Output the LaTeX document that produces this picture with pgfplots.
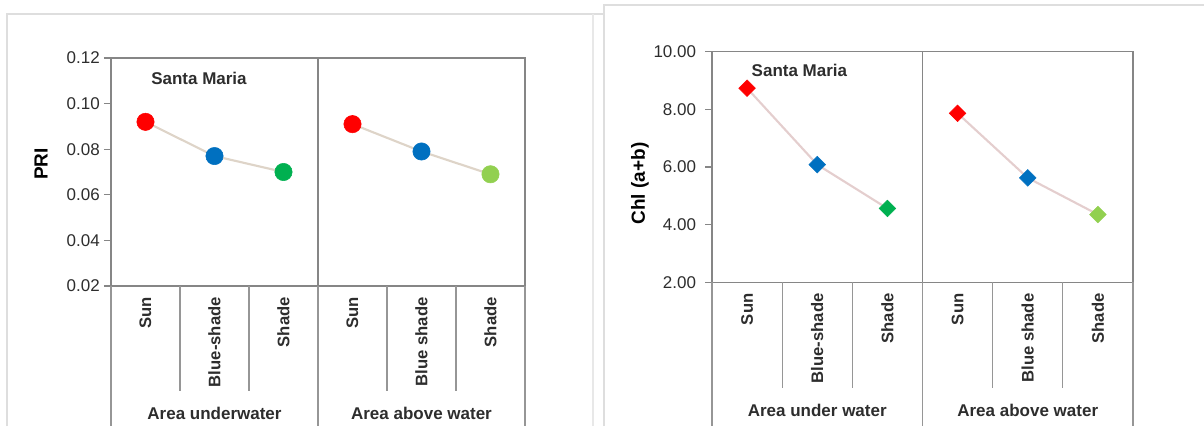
\documentclass[border=0pt]{standalone}
\usepackage{pgfplots}
\pgfplotsset{compat=1.18}
\usepackage{fontspec}
\setmainfont{Liberation Sans}
\definecolor{sunred}{RGB}{255,0,0}
\definecolor{bluesh}{RGB}{0,112,192}
\definecolor{shgreen}{RGB}{0,176,80}
\definecolor{shlgreen}{RGB}{146,208,80}
\definecolor{axgray}{RGB}{134,134,134}
\definecolor{sepgray}{RGB}{150,150,150}
\definecolor{panelgray}{RGB}{222,222,222}
\definecolor{lineL}{RGB}{222,212,200}
\definecolor{lineR}{RGB}{228,206,206}
\definecolor{ticktext}{RGB}{45,45,45}
\pgfplotsset{
  panel/.style={
    scale only axis, xmin=0, xmax=6, clip=false,
    axis line style={axgray, line width=0.9pt},
    xtick={0.5,1.5,2.5,3.5,4.5,5.5},
    xticklabels={Sun,Blue-shade,Shade,Sun,Blue shade,Shade},
    xticklabel style={rotate=90, anchor=east, inner sep=0pt,
      font=\fontsize{12.5}{14}\selectfont\bfseries, text=ticktext},
    x tick style={draw=none}, xtick pos=bottom,
    ytick pos=left, tick align=outside, major tick length=5.25pt,
    y tick style={axgray, line width=0.9pt},
    yticklabel style={font=\fontsize{12.75}{15}\selectfont, text=ticktext},
    /pgf/number format/fixed, /pgf/number format/fixed zerofill,
    /pgf/number format/precision=2,
    /pgf/number format/assume math mode=true,
    xticklabel shift=3pt,
  },
}
\tikzset{grp/.style={font=\fontsize{12.75}{15}\selectfont\bfseries, text=ticktext}}
\begin{document}
\begin{tikzpicture}[x=0.75pt,y=0.75pt]
\useasboundingbox (0,0) rectangle (1204,426);
% panel frames
\draw[panelgray, line width=1.1pt] (7,0) -- (7,412) -- (604,412);
\draw[panelgray!70, line width=0.8pt] (593,0) -- (593,412);
\draw[panelgray, line width=1.1pt] (604,0) -- (604,421) -- (1204,421);

% ---------------- Left panel: PRI ----------------
\begin{axis}[panel, at={(83.25pt,105pt)}, anchor=south west,
  width=310.5pt, height=171pt,
  ymin=0.02, ymax=0.12, ytick={0.02,0.04,0.06,0.08,0.10,0.12},
  yticklabel style={inner sep=3pt},
  ylabel={PRI},
  ylabel style={at={([xshift=-52.5pt]rel axis cs:0,0.535)}, anchor=center,
    font=\fontsize{14.25}{16}\selectfont\bfseries, text=black},
]
\addplot[lineL, line width=1.6pt] coordinates {(0.5,0.092) (1.5,0.077) (2.5,0.070)};
\addplot[lineL, line width=1.6pt] coordinates {(3.5,0.091) (4.5,0.079) (5.5,0.069)};
\addplot[only marks, mark=*, mark size=6.5pt, mark options={fill=sunred, draw=sunred}] coordinates {(0.5,0.092) (3.5,0.091)};
\addplot[only marks, mark=*, mark size=6.5pt, mark options={fill=bluesh, draw=bluesh}] coordinates {(1.5,0.077) (4.5,0.079)};
\addplot[only marks, mark=*, mark size=6.5pt, mark options={fill=shgreen, draw=shgreen}] coordinates {(2.5,0.070)};
\addplot[only marks, mark=*, mark size=6.5pt, mark options={fill=shlgreen, draw=shlgreen}] coordinates {(5.5,0.069)};
\draw[axgray, line width=0.9pt] (axis cs:3,0.02) -- (axis cs:3,0.12);
\draw[sepgray, line width=0.9pt] (axis cs:1,0.02) -- ++(0pt,-78.75pt);
\draw[sepgray, line width=0.9pt] (axis cs:2,0.02) -- ++(0pt,-78.75pt);
\draw[sepgray, line width=0.9pt] (axis cs:4,0.02) -- ++(0pt,-78.75pt);
\draw[sepgray, line width=0.9pt] (axis cs:5,0.02) -- ++(0pt,-78.75pt);
\draw[sepgray, line width=0.9pt] (axis cs:0,0.02) -- ++(0pt,-105pt);
\draw[sepgray, line width=0.9pt] (axis cs:3,0.02) -- ++(0pt,-105pt);
\draw[sepgray, line width=0.9pt] (axis cs:6,0.02) -- ++(0pt,-105pt);
\node[grp] at ([yshift=-95.25pt]axis cs:1.5,0.02) {Area underwater};
\node[grp] at ([yshift=-95.25pt]axis cs:4.5,0.02) {Area above water};
\node[grp] at (axis cs:1.275,0.1112) {Santa Maria};
\end{axis}

% ---------------- Right panel: Chl ----------------
\begin{axis}[panel, at={(534pt,107.8pt)}, anchor=south west,
  width=315.75pt, height=173pt,
  ymin=2, ymax=10, ytick={2,4,6,8,10},
  yticklabel style={inner sep=6.5pt},
  ylabel={Chl (a+b)},
  ylabel style={at={([xshift=-54pt]rel axis cs:0,0.428)}, anchor=center,
    font=\fontsize{14.25}{16}\selectfont\bfseries, text=black},
]
\addplot[lineR, line width=1.6pt] coordinates {(0.5,8.73) (1.5,6.08) (2.5,4.56)};
\addplot[lineR, line width=1.6pt] coordinates {(3.5,7.86) (4.5,5.62) (5.5,4.35)};
\addplot[only marks, mark=square*, mark size=4.4pt, mark options={rotate=45, fill=sunred, draw=sunred}] coordinates {(0.5,8.73) (3.5,7.86)};
\addplot[only marks, mark=square*, mark size=4.4pt, mark options={rotate=45, fill=bluesh, draw=bluesh}] coordinates {(1.5,6.08) (4.5,5.62)};
\addplot[only marks, mark=square*, mark size=4.4pt, mark options={rotate=45, fill=shgreen, draw=shgreen}] coordinates {(2.5,4.56)};
\addplot[only marks, mark=square*, mark size=4.4pt, mark options={rotate=45, fill=shlgreen, draw=shlgreen}] coordinates {(5.5,4.35)};
\draw[axgray, line width=0.9pt] (axis cs:3,2) -- (axis cs:3,10);
\draw[sepgray, line width=0.9pt] (axis cs:1,2) -- ++(0pt,-79.3pt);
\draw[sepgray, line width=0.9pt] (axis cs:2,2) -- ++(0pt,-79.3pt);
\draw[sepgray, line width=0.9pt] (axis cs:4,2) -- ++(0pt,-79.3pt);
\draw[sepgray, line width=0.9pt] (axis cs:5,2) -- ++(0pt,-79.3pt);
\draw[sepgray, line width=0.9pt] (axis cs:0,2) -- ++(0pt,-107.7pt);
\draw[sepgray, line width=0.9pt] (axis cs:3,2) -- ++(0pt,-107.7pt);
\draw[sepgray, line width=0.9pt] (axis cs:6,2) -- ++(0pt,-107.7pt);
\node[grp] at ([yshift=-95.8pt]axis cs:1.5,2) {Area under water};
\node[grp] at ([yshift=-95.8pt]axis cs:4.5,2) {Area above water};
\node[grp] at (axis cs:1.246,9.34) {Santa Maria};
\end{axis}
\end{tikzpicture}
\end{document}
